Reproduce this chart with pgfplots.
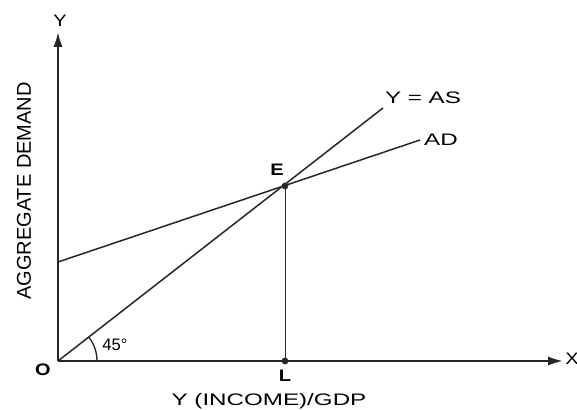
\documentclass[border=0pt]{standalone}
\usepackage{fontspec}
\setmainfont{Liberation Sans}
\usepackage{pgfplots}
\pgfplotsset{compat=1.18}
\usetikzlibrary{arrows.meta}

\colorlet{ink}{black!85}
\tikzset{wide/.style={xscale=1.45}}

\begin{document}
\begin{tikzpicture}
\begin{axis}[
  x=0.6pt, y=0.6pt,
  xmin=0, xmax=505, ymin=0, ymax=329,
  axis lines=left,
  axis line style={ink, line width=1.1pt, -{Latex[length=9pt,width=5.5pt]}},
  xtick=\empty, ytick=\empty,
  clip=false,
  every node/.append style={text=ink, font=\fontsize{11}{13}\selectfont},
]
% Y = AS (45 degree line)
\addplot[ink, line width=0.9pt] coordinates {(0,0) (325,253)};
% AD
\addplot[ink, line width=0.9pt] coordinates {(0,99) (362,221)};
% drop line from E to L
\addplot[ink, line width=0.45pt] coordinates {(227,175) (227,0)};
% equilibrium points
\addplot[only marks, mark=*, mark size=1.8pt, ink] coordinates {(227,175) (227,0)};

% 45 degree arc
\draw[ink, line width=0.8pt] (axis cs:39,0) arc[start angle=0, end angle=37.8, radius=23.4pt];

\node at (axis cs:57,16) {45°};
\node[xscale=1.2] at (axis cs:219,191) {\bfseries E};
\node[wide] at (axis cs:365,263) {Y = AS};
\node[wide] at (axis cs:383,221) {AD};
\node[xscale=1.2] at (axis cs:2,340) {Y};
\node[xscale=1.2] at (axis cs:514,2) {X};
\node[xscale=1.2] at (axis cs:-15,-9) {\bfseries O};
\node[xscale=1.2] at (axis cs:227,-15) {\bfseries L};
\node[wide] at (axis cs:211,-40) {Y (INCOME)/GDP};
\node[rotate=90, font=\fontsize{12}{14}\selectfont] at (axis cs:-34,170) {AGGREGATE DEMAND};

\coordinate (bl) at (axis cs:-58,-49);
\coordinate (tr) at (axis cs:519,361);
\end{axis}
\pgfresetboundingbox
\useasboundingbox (bl) rectangle (tr);
\end{tikzpicture}
\end{document}
